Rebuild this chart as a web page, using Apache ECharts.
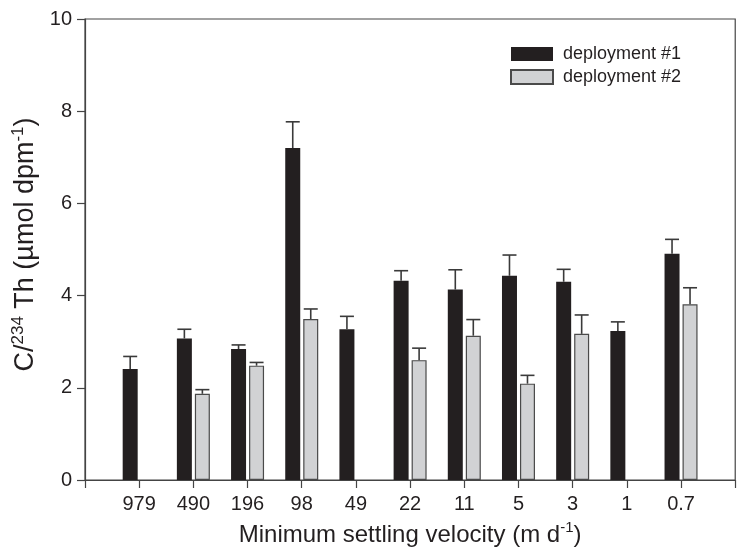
<!DOCTYPE html>
<html>
<head>
<meta charset="utf-8">
<script src="https://cdn.jsdelivr.net/npm/echarts@6/dist/echarts.min.js"></script>
<style>html,body{margin:0;padding:0;background:#fff}#c{width:741px;height:552px}</style>
</head>
<body>
<div id="c"></div>
<script>
var categories = ['979', '490', '196', '98', '49', '22', '11', '5', '3', '1', '0.7'];
var dep1 = [2.41, 3.07, 2.84, 7.20, 3.27, 4.32, 4.13, 4.43, 4.30, 3.23, 4.91];
var dep1Err = [2.68, 3.27, 2.93, 7.77, 3.55, 4.54, 4.56, 4.88, 4.57, 3.43, 5.22];
var dep2 = [null, 1.87, 2.48, 3.49, null, 2.60, 3.13, 2.09, 3.17, null, 3.81];
var dep2Err = [null, 1.96, 2.55, 3.71, null, 2.86, 3.48, 2.27, 3.58, null, 4.17];
var yTicks = [0, 2, 4, 6, 8, 10];

var FONT = 'Liberation Sans';
var TXT = '#231f20';
var BAR_W = 15;
var OFFSET = 9;

var xCats = [''].concat(categories).concat([' ']);
function pad(arr) { return [null].concat(arr).concat([null]); }

function errData(vals, errs) {
  var out = [];
  for (var i = 0; i < vals.length; i++) {
    if (vals[i] != null) out.push([i + 1, vals[i], errs[i]]);
  }
  return out;
}
function errRender(dx) {
  return function (params, api) {
    var base = api.coord([api.value(0), api.value(1)]);
    var top = api.coord([api.value(0), api.value(2)]);
    var x = base[0] + dx;
    var half = 7;
    var st = { stroke: '#3a3a3a', lineWidth: 1.6 };
    return {
      type: 'group',
      children: [
        { type: 'line', shape: { x1: x, y1: base[1], x2: x, y2: top[1] }, style: st },
        { type: 'line', shape: { x1: x - half, y1: top[1], x2: x + half, y2: top[1] }, style: st }
      ]
    };
  };
}

var chart = echarts.init(document.getElementById('c'), null, { renderer: 'canvas' });
chart.setOption({
  animation: false,
  backgroundColor: '#fff',
  textStyle: { fontFamily: FONT, color: TXT },
  grid: { left: 85, top: 19, bottom: 67, right: -9.4, show: true, borderColor: '#444', borderWidth: 1.2, backgroundColor: 'transparent' },
  legend: {
    orient: 'vertical', left: 510, top: 45, padding: 0, itemWidth: 42, itemHeight: 14, itemGap: 5,
    icon: 'rect',
    textStyle: { fontFamily: FONT, fontSize: 18, lineHeight: 18, color: TXT, padding: [0, 0, 0, 5] },
    data: ['deployment #1', 'deployment #2']
  },
  xAxis: {
    type: 'category', data: xCats, boundaryGap: false,
    axisLine: { show: true, lineStyle: { color: '#444', width: 1.2 } },
    axisTick: { show: true, inside: false, length: 8, lineStyle: { color: '#444', width: 1.2 } },
    axisLabel: { show: true, interval: 0, fontFamily: FONT, fontSize: 20, color: TXT, margin: 14 },
    splitLine: { show: false },
    name: '{a|Minimum settling velocity (m d}{s|-1}{a|)}',
    nameLocation: 'middle', nameGap: 40,
    nameTextStyle: {
      rich: {
        a: { fontFamily: FONT, fontSize: 24, color: TXT, lineHeight: 27, verticalAlign: 'bottom' },
        s: { fontFamily: FONT, fontSize: 15, color: TXT, lineHeight: 27, verticalAlign: 'top' }
      }
    }
  },
  yAxis: {
    type: 'value', min: yTicks[0], max: yTicks[yTicks.length - 1], interval: 2,
    axisLine: { show: true, lineStyle: { color: '#444', width: 1.2 } },
    axisTick: { show: true, inside: false, length: 8, lineStyle: { color: '#444', width: 1.2 } },
    axisLabel: { fontFamily: FONT, fontSize: 20, color: TXT, margin: 13 },
    splitLine: { show: false },
    name: '{a|C/}{s|234}{a| Th (µmol dpm}{s|-1}{a|)}',
    nameLocation: 'middle', nameGap: 32, nameRotate: 90,
    nameTextStyle: {
      padding: [0, 0, 0, 10],
      rich: {
        a: { fontFamily: FONT, fontSize: 27, color: TXT, lineHeight: 29, verticalAlign: 'bottom' },
        s: { fontFamily: FONT, fontSize: 17, color: TXT, lineHeight: 29, verticalAlign: 'top' }
      }
    }
  },
  series: [
    {
      name: 'deployment #1', type: 'bar', data: pad(dep1), barWidth: BAR_W, barGap: '20%',
      itemStyle: { color: '#231f20', borderColor: '#231f20', borderWidth: 0 }
    },
    {
      name: 'deployment #2', type: 'bar', data: pad(dep2), barWidth: BAR_W,
      itemStyle: { color: '#d1d2d4', borderColor: '#4a4a4a', borderWidth: 1.2 }
    },
    {
      type: 'custom', data: errData(dep1, dep1Err), renderItem: errRender(-OFFSET), z: 3,
      encode: { x: 0, y: 2 }, silent: true
    },
    {
      type: 'custom', data: errData(dep2, dep2Err), renderItem: errRender(OFFSET), z: 3,
      encode: { x: 0, y: 2 }, silent: true
    }
  ]
});
</script>
</body>
</html>
